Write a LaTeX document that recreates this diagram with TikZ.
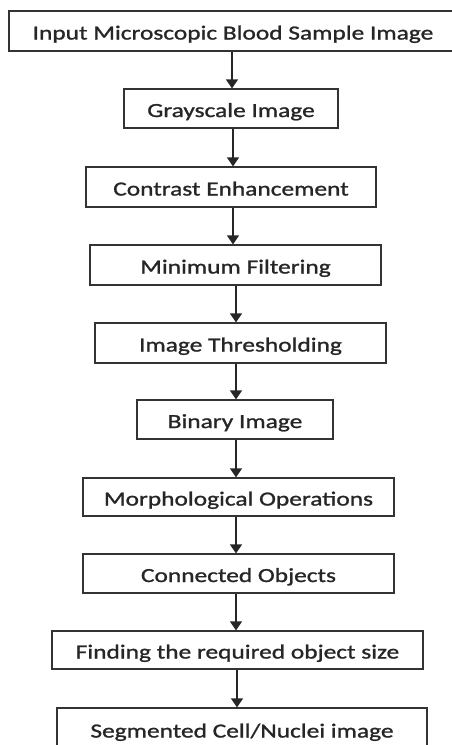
\documentclass[tikz,border=0pt]{standalone}
\usepackage{fontspec}
\setmainfont{Carlito}[FakeStretch=1.27,FakeBold=1.2]
\usetikzlibrary{arrows.meta}
\begin{document}
\begin{tikzpicture}[x=1pt,y=-1pt,
  stepbox/.style={draw=black!80,line width=1.2pt,inner sep=0pt,
    font=\fontsize{20}{24}\selectfont,text=black!85,
    text height=17pt,text depth=0pt},
  arr/.style={draw=black!85,line width=1.3pt,-{Triangle[width=12pt,length=9pt]}}]
\useasboundingbox (0,0) rectangle (452,745);
\node[stepbox,minimum width=448pt,minimum height=40pt] (b1) at (233,31) {Input Microscopic Blood Sample Image};
\node[stepbox,minimum width=214pt,minimum height=39pt] (b2) at (231,108.5) {Grayscale Image};
\node[stepbox,minimum width=290pt,minimum height=40pt] (b3) at (231,187) {Contrast Enhancement};
\node[stepbox,minimum width=291pt,minimum height=40pt] (b4) at (235.5,265) {Minimum Filtering};
\node[stepbox,minimum width=291pt,minimum height=40pt] (b5) at (240.5,343) {Image Thresholding};
\node[stepbox,minimum width=196pt,minimum height=39pt] (b6) at (235,419.5) {Binary Image};
\node[stepbox,minimum width=311pt,minimum height=38pt] (b7) at (238.5,497) {Morphological Operations};
\node[stepbox,minimum width=311pt,minimum height=39pt] (b8) at (238.5,573.5) {Connected Objects};
\node[stepbox,minimum width=371pt,minimum height=38pt] (b9) at (237.5,650) {Finding the required object size};
\node[stepbox,minimum width=370pt,minimum height=42pt] (b10) at (242,729) {Segmented Cell/Nuclei image};
\coordinate (c1) at (232,0);
\coordinate (c2) at (233,0);
\coordinate (c3) at (236,0);
\coordinate (c4) at (237,0);
\draw[arr] (b1.south -| c1) -- (b2.north -| c1);
\draw[arr] (b2.south -| c2) -- (b3.north -| c2);
\draw[arr] (b3.south -| c2) -- (b4.north -| c2);
\draw[arr] (b4.south -| c3) -- (b5.north -| c3);
\draw[arr] (b5.south -| c3) -- (b6.north -| c3);
\draw[arr] (b6.south -| c3) -- (b7.north -| c3);
\draw[arr] (b7.south -| c3) -- (b8.north -| c3);
\draw[arr] (b8.south -| c3) -- (b9.north -| c3);
\draw[arr] (b9.south -| c4) -- (b10.north -| c4);
\end{tikzpicture}
\end{document}
